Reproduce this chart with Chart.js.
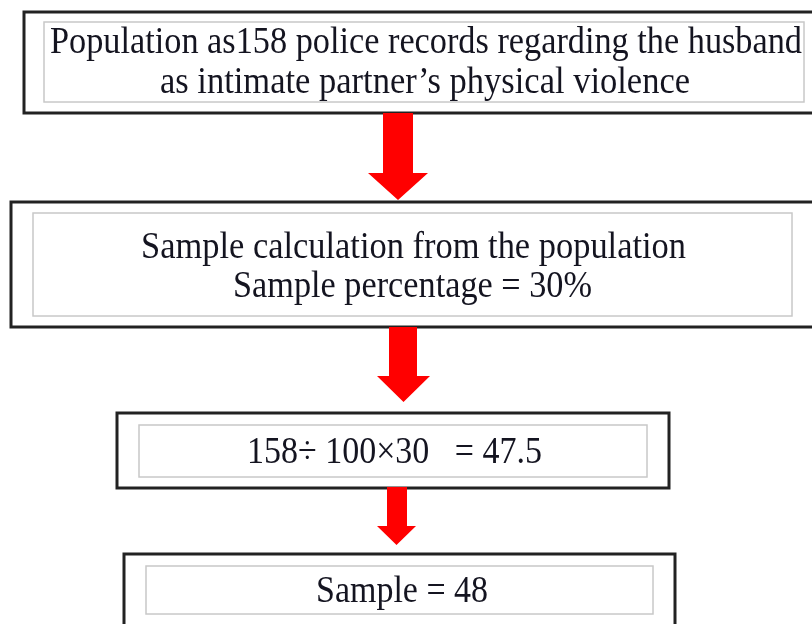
<!DOCTYPE html>
<html>
<head>
<meta charset="utf-8">
<script src="https://cdn.jsdelivr.net/npm/chart.js@4/dist/chart.umd.min.js"></script>
<style>
  html, body { margin: 0; padding: 0; background: #fff; }
  canvas { display: block; }
</style>
</head>
<body>
<canvas id="flow" width="812" height="624"></canvas>
<script>
/* ── Flow steps (text content) ── */
const step1Lines = ['Population as158 police records regarding the husband', 'as intimate partner\u2019s physical violence'];
const step2Lines = ['Sample calculation from the population', 'Sample percentage = 30%'];
const step3Lines = ['158\u00f7 100\u00d730   = 47.5'];
const step4Lines = ['Sample = 48'];
const stepLines  = [step1Lines, step2Lines, step3Lines, step4Lines];

/* ── Layout (canvas units, mapped through the chart scales) ── */
const boxLayout = [
  { outer: [24, 12, 830, 113],  inner: [44, 22, 804, 102],  text: [[50, 802, 53], [160, 690, 93]] },
  { outer: [11, 202, 830, 327], inner: [33, 213, 792, 316], text: [[141, 686, 258], [233, 592, 297]] },
  { outer: [117, 413, 669, 488], inner: [139, 425, 647, 477], text: [[247, 542, 463]] },
  { outer: [124, 554, 675, 650], inner: [146, 566, 653, 614], text: [[316, 488, 602]] },
];
// shaft x1, x2, shaft top, head top, head x1, head x2, tip
const arrowLayout = [
  [383, 413, 113, 173, 368, 428, 200],
  [389, 417, 327, 376, 377, 430, 402],
  [387, 407, 487, 526, 377, 416, 545],
];

const flowPlugin = {
  id: 'flow',
  afterDraw(chart) {
    const { ctx, scales: { x, y } } = chart;
    const px = v => x.getPixelForValue(v);
    const py = v => y.getPixelForValue(v);
    const rect = (r, color, w) => {
      ctx.strokeStyle = color;
      ctx.lineWidth = w;
      ctx.strokeRect(px(r[0]), py(r[1]), px(r[2]) - px(r[0]), py(r[3]) - py(r[1]));
    };

    ctx.save();
    boxLayout.forEach((b, i) => {
      ctx.fillStyle = '#fff';
      ctx.fillRect(px(b.outer[0]), py(b.outer[1]), px(b.outer[2]) - px(b.outer[0]), py(b.outer[3]) - py(b.outer[1]));
      rect(b.outer, '#222', 3);
      rect(b.inner, '#c8c8c8', 1.5);

      // text squeezed horizontally to the width seen in the picture
      ctx.fillStyle = '#141420';
      ctx.font = '37px "Liberation Serif", "DejaVu Serif", serif';
      ctx.textAlign = 'center';
      ctx.textBaseline = 'alphabetic';
      stepLines[i].forEach((line, j) => {
        const [x1, x2, base] = b.text[j];
        const want = px(x2) - px(x1);
        const have = ctx.measureText(line).width;
        ctx.save();
        ctx.translate((px(x1) + px(x2)) / 2, py(base));
        ctx.scale(want / have, 1);
        ctx.fillText(line, 0, 0);
        ctx.restore();
      });
    });

    ctx.fillStyle = '#ff0000';
    arrowLayout.forEach(a => {
      const [s1, s2, top, headTop, h1, h2, tip] = a;
      ctx.beginPath();
      ctx.moveTo(px(s1), py(top));
      ctx.lineTo(px(s2), py(top));
      ctx.lineTo(px(s2), py(headTop));
      ctx.lineTo(px(h2), py(headTop));
      ctx.lineTo(px((h1 + h2) / 2), py(tip));
      ctx.lineTo(px(h1), py(headTop));
      ctx.lineTo(px(s1), py(headTop));
      ctx.closePath();
      ctx.fill();
    });
    ctx.restore();
  }
};

new Chart(document.getElementById('flow'), {
  type: 'scatter',
  data: { datasets: [{ data: [] }] },
  options: {
    responsive: false,
    animation: false,
    layout: { padding: 0 },
    plugins: { legend: { display: false }, tooltip: { enabled: false } },
    scales: {
      x: { type: 'linear', min: 0, max: 812, display: false },
      y: { type: 'linear', min: 0, max: 624, reverse: true, display: false },
    },
  },
  plugins: [flowPlugin],
});
</script>
</body>
</html>
